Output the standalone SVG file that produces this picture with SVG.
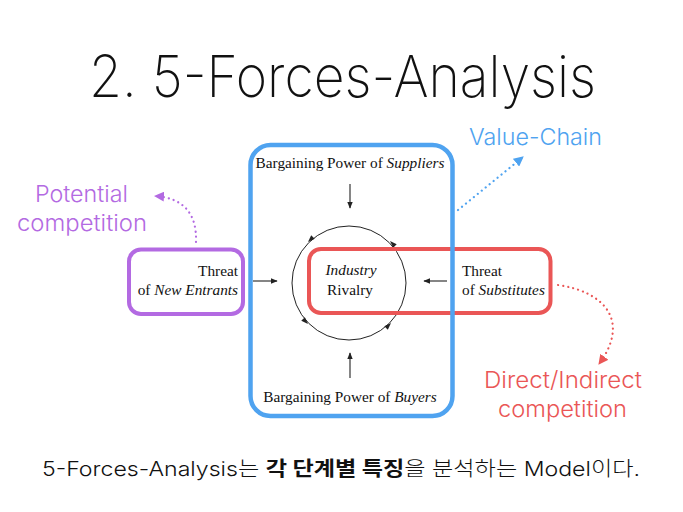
<svg xmlns="http://www.w3.org/2000/svg" width="683" height="512" viewBox="0 0 683 512">
<defs>
<style>
.sans{font-family:Inter,"Noto Sans","Noto Sans CJK KR",sans-serif;font-weight:300}
.lt{font-weight:200}
.serif{font-family:"Liberation Serif","Times New Roman",serif;font-size:15.3px;fill:#111}
.it{font-style:italic}
.box{fill:none}
.arr{stroke:#222;stroke-width:1.1;fill:none}
.dot{fill:none;stroke-width:2.2;stroke-linecap:round;stroke-dasharray:0.1 5}
</style>
<marker id="ah" viewBox="0 0 10 10" refX="9" refY="5" markerWidth="7" markerHeight="7" markerUnits="userSpaceOnUse" orient="auto"><path d="M0,1 L10,5 L0,9 Z" fill="#222"/></marker>
<marker id="ahP" viewBox="0 0 10 10" refX="9" refY="5" markerWidth="10" markerHeight="10" markerUnits="userSpaceOnUse" orient="auto"><path d="M0,0 L10,5 L0,10 Z" fill="#b36ae2"/></marker>
<marker id="ahB" viewBox="0 0 10 10" refX="9" refY="5" markerWidth="10" markerHeight="10" markerUnits="userSpaceOnUse" orient="auto"><path d="M0,0 L10,5 L0,10 Z" fill="#4fa3f0"/></marker>
<marker id="ahR" viewBox="0 0 10 10" refX="9" refY="5" markerWidth="10" markerHeight="10" markerUnits="userSpaceOnUse" orient="auto"><path d="M0,0 L10,5 L0,10 Z" fill="#ea5656"/></marker>
</defs>
<rect width="683" height="512" fill="#fff"/>

<g id="title">
<text class="sans lt" x="89" y="97" font-size="58" fill="#111" textLength="507" lengthAdjust="spacingAndGlyphs">2. 5-Forces-Analysis</text>
</g>

<g id="rivalry">
<circle cx="349" cy="283" r="57" fill="none" stroke="#222" stroke-width="1"/>
<polygon points="0,0 -7,-2.5 -7,2.5" fill="#222" transform="translate(308,242) rotate(135)"/>
<polygon points="0,0 -7,-2.5 -7,2.5" fill="#222" transform="translate(390,241) rotate(-135)"/>
<polygon points="0,0 -7,-2.5 -7,2.5" fill="#222" transform="translate(308,324) rotate(45)"/>
<polygon points="0,0 -7,-2.5 -7,2.5" fill="#222" transform="translate(391,323) rotate(-45)"/>
<text class="serif it" x="351" y="275" text-anchor="middle">Industry</text>
<text class="serif" x="350" y="295" text-anchor="middle">Rivalry</text>
</g>

<g id="suppliers">
<text class="serif" x="350" y="168" text-anchor="middle">Bargaining Power of <tspan class="it">Suppliers</tspan></text>
</g>
<g id="buyers">
<text class="serif" x="350" y="402" text-anchor="middle">Bargaining Power of <tspan class="it">Buyers</tspan></text>
</g>

<g id="new-entrants">
<rect class="box" x="129" y="249.5" width="114" height="64.5" rx="12" stroke="#b36ae2" stroke-width="4"/>
<text class="serif" x="238" y="276" text-anchor="end">Threat</text>
<text class="serif" x="238" y="295" text-anchor="end">of <tspan class="it">New Entrants</tspan></text>
</g>

<g id="substitutes">
<rect class="box" x="309" y="249" width="241.5" height="64" rx="12" stroke="#ea5656" stroke-width="4"/>
<text class="serif" x="462" y="276">Threat</text>
<text class="serif" x="462" y="295">of <tspan class="it">Substitutes</tspan></text>
</g>

<g id="value-chain-box">
<rect class="box" x="250.5" y="145" width="202" height="271" rx="20" stroke="#4fa3f0" stroke-width="4.5"/>
</g>

<g id="potential-competition">
<text class="sans" x="35" y="202" font-size="23" fill="#b36ae2" textLength="93" lengthAdjust="spacingAndGlyphs">Potential</text>
<text class="sans" x="17" y="231" font-size="23" fill="#b36ae2" textLength="130" lengthAdjust="spacingAndGlyphs">competition</text>
</g>
<g id="value-chain-label">
<text class="sans" x="469" y="145" font-size="23" fill="#4fa3f0" textLength="133" lengthAdjust="spacingAndGlyphs">Value-Chain</text>
</g>
<g id="direct-indirect">
<text class="sans" x="484" y="388" font-size="23" fill="#ea5656" textLength="158" lengthAdjust="spacingAndGlyphs">Direct/Indirect</text>
<text class="sans" x="498" y="417" font-size="23" fill="#ea5656" textLength="129" lengthAdjust="spacingAndGlyphs">competition</text>
</g>

<g id="connectors">
<line class="arr" x1="350" y1="184" x2="350" y2="208" marker-end="url(#ah)"/>
<line class="arr" x1="350" y1="378" x2="350" y2="353" marker-end="url(#ah)"/>
<line class="arr" x1="253" y1="281" x2="277" y2="281" marker-end="url(#ah)"/>
<line class="arr" x1="447" y1="281" x2="424" y2="281" marker-end="url(#ah)"/>
<path class="dot" d="M196,242 C197,214 184,198 155,196" stroke="#b36ae2" marker-end="url(#ahP)"/>
<path class="dot" d="M458,210 L523,157" stroke="#4fa3f0" marker-end="url(#ahB)"/>
<path class="dot" d="M558,285 C606,292 630,322 599,364" stroke="#ea5656" marker-end="url(#ahR)"/>
</g>

<g id="caption">
<text class="sans" x="42" y="476" font-size="20" fill="#111" textLength="598" lengthAdjust="spacingAndGlyphs">5-Forces-Analysis는 <tspan font-weight="700">각 단계별 특징</tspan>을 분석하는 Model이다.</text>
</g>
</svg>
